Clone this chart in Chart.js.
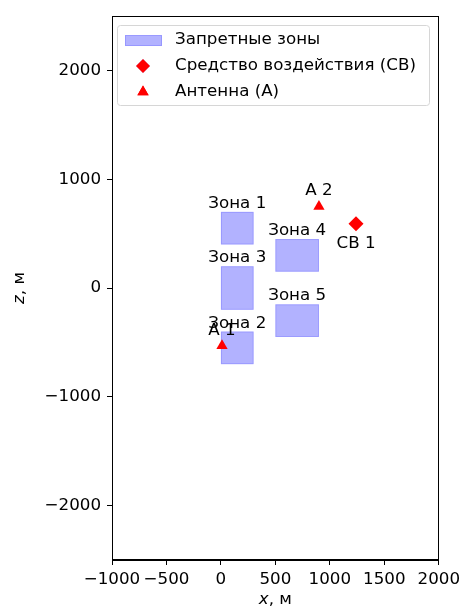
<!DOCTYPE html>
<html>
<head>
<meta charset="utf-8">
<script src="https://cdn.jsdelivr.net/npm/chart.js@4"></script>
<style>
  html, body { margin: 0; padding: 0; background: #fff; }
  #wrap { width: 465px; height: 612px; }
</style>
</head>
<body>
<div id="wrap"><canvas id="zoneChart" width="465" height="612"></canvas></div>
<script>
// zones (x from/to, z from/to), meters
var zoneNames = ['Зона 1', 'Зона 2', 'Зона 3', 'Зона 4', 'Зона 5'];
var zoneX0 = [0, 0, 0, 500, 500];
var zoneX1 = [300, 300, 300, 900, 900];
var zoneZ0 = [400, -700, -200, 150, -450];
var zoneZ1 = [700, -400, 200, 450, -150];

var cvNames = ['СВ 1'];
var cvX = [1240];
var cvZ = [590];

var antennaNames = ['А 1', 'А 2'];
var antennaX = [10, 900];
var antennaZ = [-530, 750];

var xTicks = [-1000, -500, 0, 500, 1000, 1500, 2000];
var zTicks = [-2000, -1000, 0, 1000, 2000];

var FONT = '16.7px "DejaVu Sans"';

function fmt(v) {
    return v < 0 ? '\u2212' + Math.abs(v) : String(v);
}

function toPoints(xs, zs) {
    var pts = [];
    for (var i = 0; i < xs.length; i++) pts.push({x: xs[i], y: zs[i]});
    return pts;
}

var zonesPlugin = {
    id: 'zones',
    beforeDatasetsDraw: function (chart) {
        var ctx = chart.ctx, xs = chart.scales.x, ys = chart.scales.y;
        ctx.save();
        for (var i = 0; i < zoneNames.length; i++) {
            var l = xs.getPixelForValue(zoneX0[i]), r = xs.getPixelForValue(zoneX1[i]);
            var t = ys.getPixelForValue(zoneZ1[i]), b = ys.getPixelForValue(zoneZ0[i]);
            ctx.fillStyle = 'rgba(0,0,255,0.3)';
            ctx.fillRect(l, t, r - l, b - t);
            ctx.strokeStyle = 'rgba(0,0,255,0.15)';
            ctx.lineWidth = 1;
            ctx.strokeRect(l + 0.5, t + 0.5, r - l - 1, b - t - 1);
        }
        ctx.restore();
    },
    afterDatasetsDraw: function (chart) {
        var ctx = chart.ctx, xs = chart.scales.x, ys = chart.scales.y;
        ctx.save();
        ctx.font = FONT;
        ctx.fillStyle = '#000';
        ctx.textAlign = 'center';
        ctx.textBaseline = 'alphabetic';
        for (var i = 0; i < zoneNames.length; i++) {
            var cx = xs.getPixelForValue((zoneX0[i] + zoneX1[i]) / 2);
            ctx.fillText(zoneNames[i], cx, ys.getPixelForValue(zoneZ1[i]) - 4);
        }
        for (var j = 0; j < antennaNames.length; j++) {
            ctx.fillText(antennaNames[j], xs.getPixelForValue(antennaX[j]), ys.getPixelForValue(antennaZ[j]) - 11);
        }
        for (var k = 0; k < cvNames.length; k++) {
            ctx.fillText(cvNames[k], xs.getPixelForValue(cvX[k]), ys.getPixelForValue(cvZ[k]) + 24);
        }
        ctx.restore();
    },
    afterDraw: function (chart) {
        var ctx = chart.ctx, a = chart.chartArea;
        ctx.save();
        // frame
        ctx.strokeStyle = '#000';
        ctx.lineWidth = 1;
        ctx.strokeRect(Math.round(a.left) + 0.5, Math.round(a.top) + 0.5, Math.round(a.right - a.left) - 1, Math.round(a.bottom - a.top) - 1);

        // legend
        var lx = a.left + 5, ly = a.top + 9, lw = 312, lh = 80;
        ctx.fillStyle = 'rgba(255,255,255,0.8)';
        ctx.strokeStyle = '#d6d6d6';
        ctx.beginPath();
        ctx.roundRect(lx + 0.5, ly + 0.5, lw, lh, 3);
        ctx.fill();
        ctx.stroke();

        ctx.fillStyle = 'rgba(0,0,255,0.3)';
        ctx.fillRect(lx + 8, ly + 10, 37, 11);
        ctx.strokeStyle = 'rgba(0,0,255,0.15)';
        ctx.strokeRect(lx + 8.5, ly + 10.5, 36, 10);

        var ds = chart.data.datasets;
        Chart.helpers.drawPoint(ctx, {pointStyle: ds[0].pointStyle, radius: 7, borderWidth: 0}, lx + 26, ly + 41);
        ctx.fillStyle = 'red';
        ctx.fill();
        Chart.helpers.drawPoint(ctx, {pointStyle: ds[1].pointStyle, radius: 6.5, borderWidth: 0}, lx + 26, ly + 67);
        ctx.fillStyle = 'red';
        ctx.fill();

        ctx.font = FONT;
        ctx.fillStyle = '#000';
        ctx.textAlign = 'left';
        ctx.textBaseline = 'middle';
        ctx.fillText('Запретные зоны', lx + 58, ly + 15);
        ctx.fillText(ds[0].label, lx + 58, ly + 41);
        ctx.fillText(ds[1].label, lx + 58, ly + 67);

        // axis titles
        var xm = (a.left + a.right) / 2;
        ctx.font = 'italic ' + FONT;
        var w1 = ctx.measureText('x').width;
        ctx.font = FONT;
        var w2 = ctx.measureText(', м').width;
        var sx = xm - (w1 + w2) / 2;
        ctx.font = 'italic ' + FONT;
        ctx.fillText('x', sx, 600);
        ctx.font = FONT;
        ctx.fillText(', м', sx + w1, 600);

        ctx.translate(20, (a.top + a.bottom) / 2);
        ctx.rotate(-Math.PI / 2);
        ctx.font = 'italic ' + FONT;
        w1 = ctx.measureText('z').width;
        ctx.font = FONT;
        w2 = ctx.measureText(', м').width;
        sx = -(w1 + w2) / 2;
        ctx.font = 'italic ' + FONT;
        ctx.fillText('z', sx, 0);
        ctx.font = FONT;
        ctx.fillText(', м', sx + w1, 0);
        ctx.restore();
    }
};

function drawZoneChart() {
    var ctx = document.getElementById('zoneChart').getContext('2d');
    new Chart(ctx, {
        type: 'scatter',
        data: {
            datasets: [{
                    label: 'Средство воздействия (СВ)',
                    data: toPoints(cvX, cvZ),
                    pointStyle: 'rectRot',
                    pointRadius: 7.5,
                    backgroundColor: 'red',
                    borderWidth: 0
                },
                {
                    label: 'Антенна (А)',
                    data: toPoints(antennaX, antennaZ),
                    pointStyle: 'triangle',
                    pointRadius: 6.5,
                    backgroundColor: 'red',
                    borderWidth: 0
                }
            ]
        },
        options: {
            responsive: false,
            animation: false,
            layout: {padding: {top: 14, right: 25, left: 0, bottom: 0}},
            plugins: {
                legend: {display: false},
                tooltip: {enabled: false}
            },
            scales: {
                x: {
                    type: 'linear',
                    min: -1000,
                    max: 2000,
                    afterBuildTicks: function (s) { s.ticks = xTicks.map(function (v) { return {value: v}; }); },
                    afterFit: function (s) { s.height = 52; },
                    grid: {drawOnChartArea: false, drawTicks: true, tickLength: 5, tickColor: '#000'},
                    border: {display: true, color: '#000'},
                    ticks: {
                        color: '#000', font: {family: 'DejaVu Sans', size: 16.7}, padding: 5,
                        maxRotation: 0, autoSkip: false,
                        callback: function (v) { return fmt(v); }
                    }
                },
                y: {
                    type: 'linear',
                    min: -2500,
                    max: 2500,
                    afterBuildTicks: function (s) { s.ticks = zTicks.map(function (v) { return {value: v}; }); },
                    afterFit: function (s) { s.width = 112; },
                    grid: {drawOnChartArea: false, drawTicks: true, tickLength: 5, tickColor: '#000'},
                    border: {display: true, color: '#000'},
                    ticks: {
                        color: '#000', font: {family: 'DejaVu Sans', size: 16.7}, padding: 6,
                        autoSkip: false,
                        callback: function (v) { return fmt(v); }
                    }
                }
            }
        },
        plugins: [zonesPlugin]
    });
}

drawZoneChart();
</script>
</body>
</html>
